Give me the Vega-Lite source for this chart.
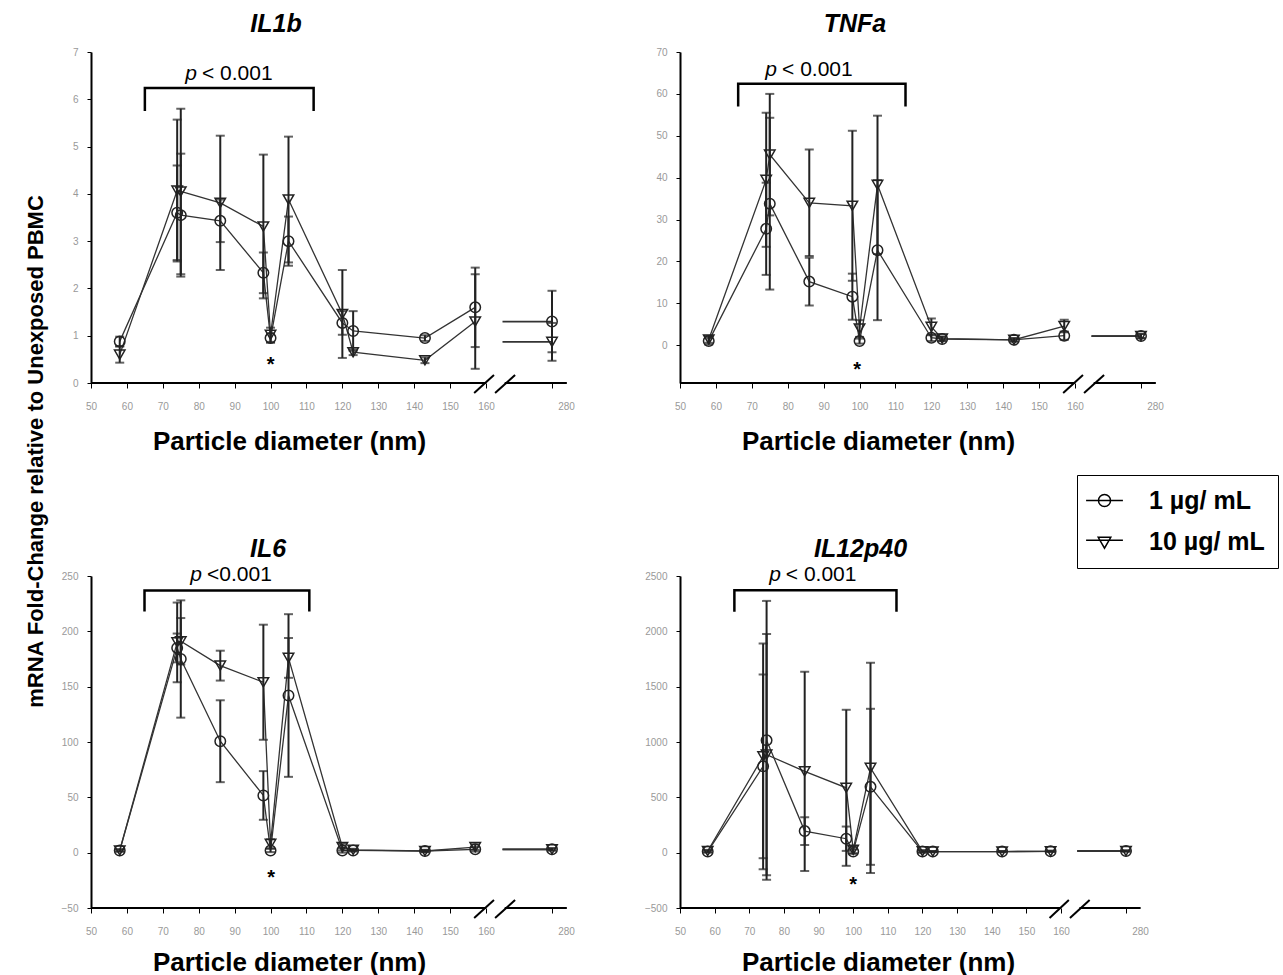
{
  "$schema": "https://vega.github.io/schema/vega-lite/v6.json",
  "background": "white",
  "padding": {"left": 25, "top": 12, "right": 0, "bottom": 0},
  "title": {"text": "mRNA Fold-Change relative to Unexposed PBMC", "orient": "left", "anchor": "middle", "fontSize": 22, "fontWeight": "bold", "font": "Liberation Sans", "offset": 13, "dx": 42, "color": "black"},
  "datasets": {
    "vals": [
      {"g":"IL1b","c":"1 µg/ mL","d":58,"m":0.88,"e":0.1},{"g":"IL1b","c":"10 µg/ mL","d":58,"m":0.6,"e":0.17},
      {"g":"IL1b","c":"1 µg/ mL","d":74,"m":3.6,"e":1.0},{"g":"IL1b","c":"10 µg/ mL","d":74,"m":4.07,"e":1.5},
      {"g":"IL1b","c":"1 µg/ mL","d":75,"m":3.55,"e":1.3},{"g":"IL1b","c":"10 µg/ mL","d":75,"m":4.05,"e":1.75},
      {"g":"IL1b","c":"1 µg/ mL","d":86,"m":3.43,"e":0.45},{"g":"IL1b","c":"10 µg/ mL","d":86,"m":3.81,"e":1.42},
      {"g":"IL1b","c":"1 µg/ mL","d":98,"m":2.33,"e":0.43},{"g":"IL1b","c":"10 µg/ mL","d":98,"m":3.31,"e":1.52},
      {"g":"IL1b","c":"1 µg/ mL","d":100,"m":0.95,"e":0.1},{"g":"IL1b","c":"10 µg/ mL","d":100,"m":1.02,"e":0.15},
      {"g":"IL1b","c":"1 µg/ mL","d":105,"m":3.0,"e":0.52},{"g":"IL1b","c":"10 µg/ mL","d":105,"m":3.88,"e":1.33},
      {"g":"IL1b","c":"1 µg/ mL","d":120,"m":1.27,"e":0.25},{"g":"IL1b","c":"10 µg/ mL","d":120,"m":1.46,"e":0.93},
      {"g":"IL1b","c":"1 µg/ mL","d":123,"m":1.1,"e":0.42},{"g":"IL1b","c":"10 µg/ mL","d":123,"m":0.65,"e":0.06},
      {"g":"IL1b","c":"1 µg/ mL","d":143,"m":0.95,"e":0.06},{"g":"IL1b","c":"10 µg/ mL","d":143,"m":0.48,"e":0.06},
      {"g":"IL1b","c":"1 µg/ mL","d":157,"m":1.6,"e":0.84},{"g":"IL1b","c":"10 µg/ mL","d":157,"m":1.3,"e":1.0},
      {"g":"IL1b","c":"1 µg/ mL","d":280,"m":1.3,"e":0.65},{"g":"IL1b","c":"10 µg/ mL","d":280,"m":0.87,"e":0.4},

      {"g":"TNFa","c":"1 µg/ mL","d":58,"m":1.0,"e":0.8},{"g":"TNFa","c":"10 µg/ mL","d":58,"m":1.4,"e":0.8},
      {"g":"TNFa","c":"1 µg/ mL","d":74,"m":27.8,"e":11},{"g":"TNFa","c":"10 µg/ mL","d":74,"m":39.5,"e":16},
      {"g":"TNFa","c":"1 µg/ mL","d":75,"m":33.8,"e":20.5},{"g":"TNFa","c":"10 µg/ mL","d":75,"m":45.5,"e":14.5},
      {"g":"TNFa","c":"1 µg/ mL","d":86,"m":15.2,"e":5.7},{"g":"TNFa","c":"10 µg/ mL","d":86,"m":34.0,"e":12.7},
      {"g":"TNFa","c":"1 µg/ mL","d":98,"m":11.6,"e":5.5},{"g":"TNFa","c":"10 µg/ mL","d":98,"m":33.3,"e":17.9},
      {"g":"TNFa","c":"1 µg/ mL","d":100,"m":1.0,"e":0.6},{"g":"TNFa","c":"10 µg/ mL","d":100,"m":4.0,"e":2.0},
      {"g":"TNFa","c":"1 µg/ mL","d":105,"m":22.7,"e":16.7},{"g":"TNFa","c":"10 µg/ mL","d":105,"m":38.3,"e":16.5},
      {"g":"TNFa","c":"1 µg/ mL","d":120,"m":1.8,"e":0.8},{"g":"TNFa","c":"10 µg/ mL","d":120,"m":4.4,"e":2.0},
      {"g":"TNFa","c":"1 µg/ mL","d":123,"m":1.5,"e":0.5},{"g":"TNFa","c":"10 µg/ mL","d":123,"m":1.6,"e":0.5},
      {"g":"TNFa","c":"1 µg/ mL","d":143,"m":1.3,"e":0.4},{"g":"TNFa","c":"10 µg/ mL","d":143,"m":1.3,"e":0.4},
      {"g":"TNFa","c":"1 µg/ mL","d":157,"m":2.3,"e":1.0},{"g":"TNFa","c":"10 µg/ mL","d":157,"m":4.6,"e":1.5},
      {"g":"TNFa","c":"1 µg/ mL","d":280,"m":2.2,"e":0.5},{"g":"TNFa","c":"10 µg/ mL","d":280,"m":2.2,"e":0.5},

      {"g":"IL6","c":"1 µg/ mL","d":58,"m":2,"e":1},{"g":"IL6","c":"10 µg/ mL","d":58,"m":2,"e":1},
      {"g":"IL6","c":"1 µg/ mL","d":74,"m":185,"e":13},{"g":"IL6","c":"10 µg/ mL","d":74,"m":190,"e":36},
      {"g":"IL6","c":"1 µg/ mL","d":75,"m":175,"e":53},{"g":"IL6","c":"10 µg/ mL","d":75,"m":191,"e":21},
      {"g":"IL6","c":"1 µg/ mL","d":86,"m":100.7,"e":37},{"g":"IL6","c":"10 µg/ mL","d":86,"m":169,"e":13.5},
      {"g":"IL6","c":"1 µg/ mL","d":98,"m":51.7,"e":22},{"g":"IL6","c":"10 µg/ mL","d":98,"m":154,"e":52},
      {"g":"IL6","c":"1 µg/ mL","d":100,"m":2,"e":1.5},{"g":"IL6","c":"10 µg/ mL","d":100,"m":8,"e":4},
      {"g":"IL6","c":"1 µg/ mL","d":105,"m":142,"e":73.5},{"g":"IL6","c":"10 µg/ mL","d":105,"m":176,"e":18},
      {"g":"IL6","c":"1 µg/ mL","d":120,"m":2,"e":2},{"g":"IL6","c":"10 µg/ mL","d":120,"m":5,"e":3},
      {"g":"IL6","c":"1 µg/ mL","d":123,"m":2,"e":1},{"g":"IL6","c":"10 µg/ mL","d":123,"m":2.5,"e":1},
      {"g":"IL6","c":"1 µg/ mL","d":143,"m":1.5,"e":1},{"g":"IL6","c":"10 µg/ mL","d":143,"m":1.5,"e":1},
      {"g":"IL6","c":"1 µg/ mL","d":157,"m":3,"e":2},{"g":"IL6","c":"10 µg/ mL","d":157,"m":5,"e":2.5},
      {"g":"IL6","c":"1 µg/ mL","d":280,"m":3,"e":1},{"g":"IL6","c":"10 µg/ mL","d":280,"m":3,"e":1},

      {"g":"IL12p40","c":"1 µg/ mL","d":58,"m":10,"e":10},{"g":"IL12p40","c":"10 µg/ mL","d":58,"m":15,"e":10},
      {"g":"IL12p40","c":"1 µg/ mL","d":74,"m":780,"e":830},{"g":"IL12p40","c":"10 µg/ mL","d":74,"m":870,"e":1020},
      {"g":"IL12p40","c":"1 µg/ mL","d":75,"m":1015,"e":1260},{"g":"IL12p40","c":"10 µg/ mL","d":75,"m":886,"e":1090},
      {"g":"IL12p40","c":"1 µg/ mL","d":86,"m":195,"e":125},{"g":"IL12p40","c":"10 µg/ mL","d":86,"m":735,"e":900},
      {"g":"IL12p40","c":"1 µg/ mL","d":98,"m":126,"e":110},{"g":"IL12p40","c":"10 µg/ mL","d":98,"m":586,"e":705},
      {"g":"IL12p40","c":"1 µg/ mL","d":100,"m":10,"e":20},{"g":"IL12p40","c":"10 µg/ mL","d":100,"m":25,"e":30},
      {"g":"IL12p40","c":"1 µg/ mL","d":105,"m":595,"e":705},{"g":"IL12p40","c":"10 µg/ mL","d":105,"m":766,"e":950},
      {"g":"IL12p40","c":"1 µg/ mL","d":120,"m":10,"e":10},{"g":"IL12p40","c":"10 µg/ mL","d":120,"m":12,"e":10},
      {"g":"IL12p40","c":"1 µg/ mL","d":123,"m":10,"e":5},{"g":"IL12p40","c":"10 µg/ mL","d":123,"m":10,"e":5},
      {"g":"IL12p40","c":"1 µg/ mL","d":143,"m":10,"e":5},{"g":"IL12p40","c":"10 µg/ mL","d":143,"m":10,"e":5},
      {"g":"IL12p40","c":"1 µg/ mL","d":157,"m":12,"e":5},{"g":"IL12p40","c":"10 µg/ mL","d":157,"m":12,"e":5},
      {"g":"IL12p40","c":"1 µg/ mL","d":280,"m":15,"e":5},{"g":"IL12p40","c":"10 µg/ mL","d":280,"m":15,"e":5}
    ],
    "brk": [
      {"g":"IL1b","o":1,"x":65,"y":5.75},{"g":"IL1b","o":2,"x":65,"y":6.24},{"g":"IL1b","o":3,"x":112,"y":6.24},{"g":"IL1b","o":4,"x":112,"y":5.75},
      {"g":"TNFa","o":1,"x":66.2,"y":57},{"g":"TNFa","o":2,"x":66.2,"y":62.4},{"g":"TNFa","o":3,"x":112.8,"y":62.4},{"g":"TNFa","o":4,"x":112.8,"y":57},
      {"g":"IL6","o":1,"x":64.9,"y":218},{"g":"IL6","o":2,"x":64.9,"y":237},{"g":"IL6","o":3,"x":110.8,"y":237},{"g":"IL6","o":4,"x":110.8,"y":218},
      {"g":"IL12p40","o":1,"x":65.7,"y":2177},{"g":"IL12p40","o":2,"x":65.7,"y":2372},{"g":"IL12p40","o":3,"x":112.5,"y":2372},{"g":"IL12p40","o":4,"x":112.5,"y":2177}
    ],
    "axl": [
      {"g":"IL1b","s":"a","o":1,"x":50,"y":0},{"g":"IL1b","s":"a","o":2,"x":160,"y":0},
      {"g":"IL1b","s":"b","o":1,"x":194,"y":0},{"g":"IL1b","s":"b","o":2,"x":307,"y":0},
      {"g":"IL1b","s":"c","o":1,"x":156.7,"y":-0.211},{"g":"IL1b","s":"c","o":2,"x":174.5,"y":0.169},
      {"g":"IL1b","s":"d","o":1,"x":176.5,"y":-0.211},{"g":"IL1b","s":"d","o":2,"x":212.9,"y":0.169},
      {"g":"TNFa","s":"a","o":1,"x":50,"y":-9},{"g":"TNFa","s":"a","o":2,"x":160,"y":-9},
      {"g":"TNFa","s":"b","o":1,"x":194,"y":-9},{"g":"TNFa","s":"b","o":2,"x":307,"y":-9},
      {"g":"TNFa","s":"c","o":1,"x":156.7,"y":-11.39},{"g":"TNFa","s":"c","o":2,"x":174.5,"y":-7.09},
      {"g":"TNFa","s":"d","o":1,"x":176.5,"y":-11.39},{"g":"TNFa","s":"d","o":2,"x":212.9,"y":-7.09},
      {"g":"IL6","s":"a","o":1,"x":50,"y":-50},{"g":"IL6","s":"a","o":2,"x":160,"y":-50},
      {"g":"IL6","s":"b","o":1,"x":194,"y":-50},{"g":"IL6","s":"b","o":2,"x":307,"y":-50},
      {"g":"IL6","s":"c","o":1,"x":156.7,"y":-59.03},{"g":"IL6","s":"c","o":2,"x":174.5,"y":-42.77},
      {"g":"IL6","s":"d","o":1,"x":176.5,"y":-59.03},{"g":"IL6","s":"d","o":2,"x":212.9,"y":-42.77},
      {"g":"IL12p40","s":"a","o":1,"x":50,"y":-500},{"g":"IL12p40","s":"a","o":2,"x":160,"y":-500},
      {"g":"IL12p40","s":"b","o":1,"x":194,"y":-500},{"g":"IL12p40","s":"b","o":2,"x":307,"y":-500},
      {"g":"IL12p40","s":"c","o":1,"x":156.7,"y":-590.4},{"g":"IL12p40","s":"c","o":2,"x":174.5,"y":-427.7},
      {"g":"IL12p40","s":"d","o":1,"x":176.5,"y":-590.4},{"g":"IL12p40","s":"d","o":2,"x":212.9,"y":-427.7}
    ],
    "ann": [
      {"g":"IL1b","tx":79.8,"ty":6.54,"tr":"< 0.001","sx":100,"sy":0.46},
      {"g":"TNFa","tx":77.3,"ty":65.7,"tr":"< 0.001","sx":99.3,"sy":-4.9},
      {"g":"IL6","tx":81.2,"ty":251,"tr":"<0.001","sx":100.2,"sy":-19.6},
      {"g":"IL12p40","tx":79.4,"ty":2507,"tr":"< 0.001","sx":100,"sy":-255}
    ]
  },
  "spacing": 524,
  "bounds": "flush",
  "vconcat": [
    {"hconcat": [
      {
        "width": 476, "height": 331,
        "title": {"text": "IL1b", "fontSize": 25, "fontStyle": "italic", "fontWeight": "bold", "font": "Liberation Sans", "dx": -53, "offset": 10, "color": "black"},
        "data": {"name": "vals"},
        "transform": [{"filter": "datum.g === 'IL1b'"}],
        "encoding": {
          "x": {"field": "d", "type": "quantitative", "scale": {"domain": [50,160,280], "range": [0,395,461], "nice": false, "zero": false},
                "axis": {"values": [50,60,70,80,90,100,110,120,130,140,150,160,280], "title": "Particle diameter (nm)", "labelOffset": {"condition": {"test": "datum.value === 280", "value": 14}, "value": 0}}},
          "y": {"field": "m", "type": "quantitative", "scale": {"domain": [0,7], "nice": false, "zero": false}, "axis": {"values": [0,1,2,3,4,5,6,7], "title": null, "format": "d"}}
        },
        "layer": [
          {"data": {"name": "axl"}, "transform": [{"filter": "datum.g === 'IL1b'"}], "mark": {"type": "line", "color": "black", "strokeWidth": 2},
           "encoding": {"x": {"field": "x", "type": "quantitative"}, "y": {"field": "y", "type": "quantitative"}, "detail": {"field": "s"}, "order": {"field": "o"}}},
          {"data": {"name": "brk"}, "transform": [{"filter": "datum.g === 'IL1b'"}], "mark": {"type": "line", "color": "black", "strokeWidth": 2.5},
           "encoding": {"x": {"field": "x", "type": "quantitative"}, "y": {"field": "y", "type": "quantitative"}, "order": {"field": "o"}}},
          {"data": {"name": "ann"}, "transform": [{"filter": "datum.g === 'IL1b'"}], "mark": {"type": "text", "text": "p", "font": "Liberation Sans", "fontSize": 21, "fontStyle": "italic", "align": "right", "baseline": "middle", "dx": -1, "color": "black"},
           "encoding": {"x": {"field": "tx", "type": "quantitative"}, "y": {"field": "ty", "type": "quantitative"}}},
          {"data": {"name": "ann"}, "transform": [{"filter": "datum.g === 'IL1b'"}], "mark": {"type": "text", "font": "Liberation Sans", "fontSize": 21, "align": "left", "baseline": "middle", "dx": 4, "color": "black"},
           "encoding": {"x": {"field": "tx", "type": "quantitative"}, "y": {"field": "ty", "type": "quantitative"}, "text": {"field": "tr"}}},
          {"data": {"name": "ann"}, "transform": [{"filter": "datum.g === 'IL1b'"}], "mark": {"type": "text", "text": "*", "font": "Liberation Sans", "fontSize": 20, "fontWeight": "bold", "align": "center", "baseline": "middle", "dy": 4, "color": "black"},
           "encoding": {"x": {"field": "sx", "type": "quantitative"}, "y": {"field": "sy", "type": "quantitative"}}},
          {"transform": [{"filter": "datum.d < 200"}], "mark": {"type": "line", "color": "#333", "strokeWidth": 1.3},
           "encoding": {"detail": {"field": "c"}}},
          {"transform": [{"filter": "datum.d === 280"}], "mark": {"type": "rule", "color": "#333", "strokeWidth": 1.8},
           "encoding": {"x": {"datum": 190, "type": "quantitative"}, "x2": {"field": "d"}}},
          {"mark": {"type": "errorbar", "ticks": {"size": 9, "thickness": 2, "color": "#222"}, "color": "#222", "thickness": 2},
           "encoding": {"yError": {"field": "e"}}},
          {"transform": [{"filter": "datum.c === '1 µg/ mL'"}], "mark": {"type": "point", "shape": "circle", "filled": false, "size": 110, "strokeWidth": 1.5, "color": "#222", "opacity": 1}},
          {"transform": [{"filter": "datum.c === '10 µg/ mL'"}], "mark": {"type": "point", "shape": "triangle-down", "filled": false, "size": 110, "strokeWidth": 1.5, "color": "#222", "opacity": 1}},
          {"transform": [{"filter": "datum.d === 58"}], "mark": {"type": "point", "filled": false, "size": 280, "opacity": 0, "color": "black"},
           "encoding": {"shape": {"field": "c", "type": "nominal", "scale": {"domain": ["1 µg/ mL", "10 µg/ mL"], "range": ["M-2.2,0H2.2M-0.72,0A0.72,0.72 0 1,0 0.72,0A0.72,0.72 0 1,0 -0.72,0", "M-2.2,-0.15H2.2M-0.75,-0.5H0.75L0,0.8Z"]},
             "legend": {"title": null, "symbolOpacity": 1}}}}
        ]
      },
      {
        "width": 476, "height": 331,
        "title": {"text": "TNFa", "fontSize": 25, "fontStyle": "italic", "fontWeight": "bold", "font": "Liberation Sans", "dx": -63, "offset": 10, "color": "black"},
        "data": {"name": "vals"},
        "transform": [{"filter": "datum.g === 'TNFa'"}],
        "encoding": {
          "x": {"field": "d", "type": "quantitative", "scale": {"domain": [50,160,280], "range": [0,395,461], "nice": false, "zero": false},
                "axis": {"values": [50,60,70,80,90,100,110,120,130,140,150,160,280], "title": "Particle diameter (nm)", "labelOffset": {"condition": {"test": "datum.value === 280", "value": 14}, "value": 0}}},
          "y": {"field": "m", "type": "quantitative", "scale": {"domain": [-9,70], "nice": false, "zero": false}, "axis": {"values": [0,10,20,30,40,50,60,70], "title": null, "format": "d"}}
        },
        "layer": [
          {"data": {"name": "axl"}, "transform": [{"filter": "datum.g === 'TNFa'"}], "mark": {"type": "line", "color": "black", "strokeWidth": 2},
           "encoding": {"x": {"field": "x", "type": "quantitative"}, "y": {"field": "y", "type": "quantitative"}, "detail": {"field": "s"}, "order": {"field": "o"}}},
          {"data": {"name": "brk"}, "transform": [{"filter": "datum.g === 'TNFa'"}], "mark": {"type": "line", "color": "black", "strokeWidth": 2.5},
           "encoding": {"x": {"field": "x", "type": "quantitative"}, "y": {"field": "y", "type": "quantitative"}, "order": {"field": "o"}}},
          {"data": {"name": "ann"}, "transform": [{"filter": "datum.g === 'TNFa'"}], "mark": {"type": "text", "text": "p", "font": "Liberation Sans", "fontSize": 21, "fontStyle": "italic", "align": "right", "baseline": "middle", "dx": -1, "color": "black"},
           "encoding": {"x": {"field": "tx", "type": "quantitative"}, "y": {"field": "ty", "type": "quantitative"}}},
          {"data": {"name": "ann"}, "transform": [{"filter": "datum.g === 'TNFa'"}], "mark": {"type": "text", "font": "Liberation Sans", "fontSize": 21, "align": "left", "baseline": "middle", "dx": 4, "color": "black"},
           "encoding": {"x": {"field": "tx", "type": "quantitative"}, "y": {"field": "ty", "type": "quantitative"}, "text": {"field": "tr"}}},
          {"data": {"name": "ann"}, "transform": [{"filter": "datum.g === 'TNFa'"}], "mark": {"type": "text", "text": "*", "font": "Liberation Sans", "fontSize": 20, "fontWeight": "bold", "align": "center", "baseline": "middle", "dy": 4, "color": "black"},
           "encoding": {"x": {"field": "sx", "type": "quantitative"}, "y": {"field": "sy", "type": "quantitative"}}},
          {"transform": [{"filter": "datum.d < 200"}], "mark": {"type": "line", "color": "#333", "strokeWidth": 1.3},
           "encoding": {"detail": {"field": "c"}}},
          {"transform": [{"filter": "datum.d === 280"}], "mark": {"type": "rule", "color": "#333", "strokeWidth": 1.8},
           "encoding": {"x": {"datum": 190, "type": "quantitative"}, "x2": {"field": "d"}}},
          {"mark": {"type": "errorbar", "ticks": {"size": 9, "thickness": 2, "color": "#222"}, "color": "#222", "thickness": 2},
           "encoding": {"yError": {"field": "e"}}},
          {"transform": [{"filter": "datum.c === '1 µg/ mL'"}], "mark": {"type": "point", "shape": "circle", "filled": false, "size": 110, "strokeWidth": 1.5, "color": "#222", "opacity": 1}},
          {"transform": [{"filter": "datum.c === '10 µg/ mL'"}], "mark": {"type": "point", "shape": "triangle-down", "filled": false, "size": 110, "strokeWidth": 1.5, "color": "#222", "opacity": 1}}
        ]
      }
    ], "spacing": 113, "bounds": "flush"},
    {"hconcat": [
      {
        "width": 476, "height": 332,
        "title": {"text": "IL6", "fontSize": 25, "fontStyle": "italic", "fontWeight": "bold", "font": "Liberation Sans", "dx": -61, "offset": 2, "color": "black"},
        "data": {"name": "vals"},
        "transform": [{"filter": "datum.g === 'IL6'"}],
        "encoding": {
          "x": {"field": "d", "type": "quantitative", "scale": {"domain": [50,160,280], "range": [0,395,461], "nice": false, "zero": false},
                "axis": {"values": [50,60,70,80,90,100,110,120,130,140,150,160,280], "title": "Particle diameter (nm)", "titlePadding": 13, "labelOffset": {"condition": {"test": "datum.value === 280", "value": 14}, "value": 0}}},
          "y": {"field": "m", "type": "quantitative", "scale": {"domain": [-50,250], "nice": false, "zero": false}, "axis": {"values": [-50,0,50,100,150,200,250], "title": null, "format": "d"}}
        },
        "layer": [
          {"data": {"name": "axl"}, "transform": [{"filter": "datum.g === 'IL6'"}], "mark": {"type": "line", "color": "black", "strokeWidth": 2},
           "encoding": {"x": {"field": "x", "type": "quantitative"}, "y": {"field": "y", "type": "quantitative"}, "detail": {"field": "s"}, "order": {"field": "o"}}},
          {"data": {"name": "brk"}, "transform": [{"filter": "datum.g === 'IL6'"}], "mark": {"type": "line", "color": "black", "strokeWidth": 2.5},
           "encoding": {"x": {"field": "x", "type": "quantitative"}, "y": {"field": "y", "type": "quantitative"}, "order": {"field": "o"}}},
          {"data": {"name": "ann"}, "transform": [{"filter": "datum.g === 'IL6'"}], "mark": {"type": "text", "text": "p", "font": "Liberation Sans", "fontSize": 21, "fontStyle": "italic", "align": "right", "baseline": "middle", "dx": -1, "color": "black"},
           "encoding": {"x": {"field": "tx", "type": "quantitative"}, "y": {"field": "ty", "type": "quantitative"}}},
          {"data": {"name": "ann"}, "transform": [{"filter": "datum.g === 'IL6'"}], "mark": {"type": "text", "font": "Liberation Sans", "fontSize": 21, "align": "left", "baseline": "middle", "dx": 4, "color": "black"},
           "encoding": {"x": {"field": "tx", "type": "quantitative"}, "y": {"field": "ty", "type": "quantitative"}, "text": {"field": "tr"}}},
          {"data": {"name": "ann"}, "transform": [{"filter": "datum.g === 'IL6'"}], "mark": {"type": "text", "text": "*", "font": "Liberation Sans", "fontSize": 20, "fontWeight": "bold", "align": "center", "baseline": "middle", "dy": 4, "color": "black"},
           "encoding": {"x": {"field": "sx", "type": "quantitative"}, "y": {"field": "sy", "type": "quantitative"}}},
          {"transform": [{"filter": "datum.d < 200"}], "mark": {"type": "line", "color": "#333", "strokeWidth": 1.3},
           "encoding": {"detail": {"field": "c"}}},
          {"transform": [{"filter": "datum.d === 280"}], "mark": {"type": "rule", "color": "#333", "strokeWidth": 1.8},
           "encoding": {"x": {"datum": 190, "type": "quantitative"}, "x2": {"field": "d"}}},
          {"mark": {"type": "errorbar", "ticks": {"size": 9, "thickness": 2, "color": "#222"}, "color": "#222", "thickness": 2},
           "encoding": {"yError": {"field": "e"}}},
          {"transform": [{"filter": "datum.c === '1 µg/ mL'"}], "mark": {"type": "point", "shape": "circle", "filled": false, "size": 110, "strokeWidth": 1.5, "color": "#222", "opacity": 1}},
          {"transform": [{"filter": "datum.c === '10 µg/ mL'"}], "mark": {"type": "point", "shape": "triangle-down", "filled": false, "size": 110, "strokeWidth": 1.5, "color": "#222", "opacity": 1}}
        ]
      },
      {
        "width": 461, "height": 332,
        "title": {"text": "IL12p40", "fontSize": 25, "fontStyle": "italic", "fontWeight": "bold", "font": "Liberation Sans", "dx": -50, "offset": 2, "color": "black"},
        "data": {"name": "vals"},
        "transform": [{"filter": "datum.g === 'IL12p40'"}],
        "encoding": {
          "x": {"field": "d", "type": "quantitative", "scale": {"domain": [50,160,280], "range": [0,381,446], "nice": false, "zero": false},
                "axis": {"values": [50,60,70,80,90,100,110,120,130,140,150,160,280], "title": "Particle diameter (nm)", "titlePadding": 13, "labelOffset": {"condition": {"test": "datum.value === 280", "value": 14}, "value": 0}}},
          "y": {"field": "m", "type": "quantitative", "scale": {"domain": [-500,2500], "nice": false, "zero": false}, "axis": {"values": [-500,0,500,1000,1500,2000,2500], "title": null, "format": "d"}}
        },
        "layer": [
          {"data": {"name": "axl"}, "transform": [{"filter": "datum.g === 'IL12p40'"}], "mark": {"type": "line", "color": "black", "strokeWidth": 2},
           "encoding": {"x": {"field": "x", "type": "quantitative"}, "y": {"field": "y", "type": "quantitative"}, "detail": {"field": "s"}, "order": {"field": "o"}}},
          {"data": {"name": "brk"}, "transform": [{"filter": "datum.g === 'IL12p40'"}], "mark": {"type": "line", "color": "black", "strokeWidth": 2.5},
           "encoding": {"x": {"field": "x", "type": "quantitative"}, "y": {"field": "y", "type": "quantitative"}, "order": {"field": "o"}}},
          {"data": {"name": "ann"}, "transform": [{"filter": "datum.g === 'IL12p40'"}], "mark": {"type": "text", "text": "p", "font": "Liberation Sans", "fontSize": 21, "fontStyle": "italic", "align": "right", "baseline": "middle", "dx": -1, "color": "black"},
           "encoding": {"x": {"field": "tx", "type": "quantitative"}, "y": {"field": "ty", "type": "quantitative"}}},
          {"data": {"name": "ann"}, "transform": [{"filter": "datum.g === 'IL12p40'"}], "mark": {"type": "text", "font": "Liberation Sans", "fontSize": 21, "align": "left", "baseline": "middle", "dx": 4, "color": "black"},
           "encoding": {"x": {"field": "tx", "type": "quantitative"}, "y": {"field": "ty", "type": "quantitative"}, "text": {"field": "tr"}}},
          {"data": {"name": "ann"}, "transform": [{"filter": "datum.g === 'IL12p40'"}], "mark": {"type": "text", "text": "*", "font": "Liberation Sans", "fontSize": 20, "fontWeight": "bold", "align": "center", "baseline": "middle", "dy": 4, "color": "black"},
           "encoding": {"x": {"field": "sx", "type": "quantitative"}, "y": {"field": "sy", "type": "quantitative"}}},
          {"transform": [{"filter": "datum.d < 200"}], "mark": {"type": "line", "color": "#333", "strokeWidth": 1.3},
           "encoding": {"detail": {"field": "c"}}},
          {"transform": [{"filter": "datum.d === 280"}], "mark": {"type": "rule", "color": "#333", "strokeWidth": 1.8},
           "encoding": {"x": {"datum": 190, "type": "quantitative"}, "x2": {"field": "d"}}},
          {"mark": {"type": "errorbar", "ticks": {"size": 9, "thickness": 2, "color": "#222"}, "color": "#222", "thickness": 2},
           "encoding": {"yError": {"field": "e"}}},
          {"transform": [{"filter": "datum.c === '1 µg/ mL'"}], "mark": {"type": "point", "shape": "circle", "filled": false, "size": 110, "strokeWidth": 1.5, "color": "#222", "opacity": 1}},
          {"transform": [{"filter": "datum.c === '10 µg/ mL'"}], "mark": {"type": "point", "shape": "triangle-down", "filled": false, "size": 110, "strokeWidth": 1.5, "color": "#222", "opacity": 1}}
        ]
      }
    ], "spacing": 113, "bounds": "flush"}
  ],
  "config": {
    "font": "Liberation Sans",
    "view": {"stroke": null},
    "axis": {"labelFont": "Liberation Sans", "labelFontSize": 10, "labelColor": "#999", "tickColor": "black", "domainColor": "black", "domainWidth": 2, "grid": false, "titleFont": "Liberation Sans"},
    "axisX": {"domain": false, "tickSize": 5, "tickWidth": 1, "labelPadding": 13, "titleFontSize": 26, "titleFontWeight": "bold", "titleColor": "black", "titleX": 198, "titleAlign": "center", "titlePadding": 17, "labelFlush": false, "labelOverlap": false},
    "axisY": {"tickSize": 4, "labelPadding": 9, "labelOverlap": false},
    "legend": {"orient": "none", "legendX": 986, "legendY": 423, "labelFont": "Liberation Sans", "labelFontSize": 25, "labelFontWeight": "bold", "labelColor": "black", "labelLimit": 300, "strokeColor": "black", "padding": 13, "symbolSize": 280, "symbolStrokeWidth": 1.5, "symbolStrokeColor": "black", "symbolFillColor": "transparent", "symbolOpacity": 1, "labelOffset": 32, "rowPadding": 15, "symbolOffset": 2}
  }
}
